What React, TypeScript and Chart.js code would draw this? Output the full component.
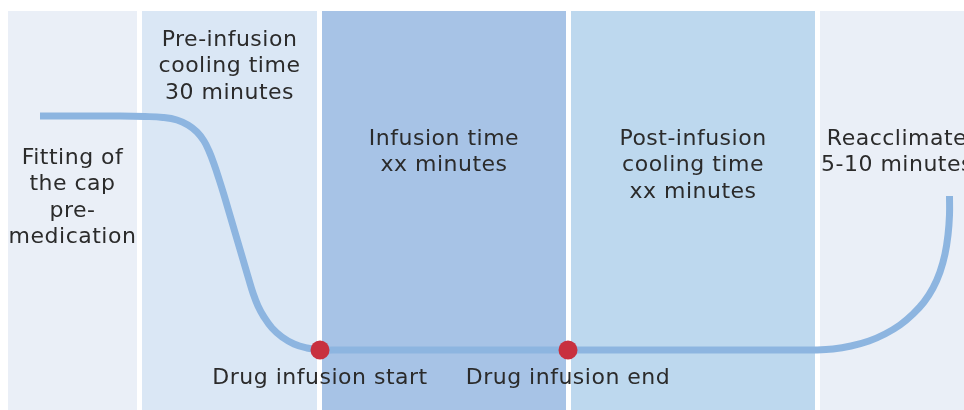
import React, { useEffect, useRef } from "react";
import { Chart, registerables } from "chart.js";

Chart.register(...registerables);

// Timeline phases (x = position along the timeline)
const phaseStarts = [8, 142, 322, 571, 820];
const phaseEnds = [137, 317, 566, 815, 974];
const phaseColors = ["#EAEFF7", "#DAE7F5", "#A7C3E6", "#BDD8EE", "#EAEFF7"];
const phaseLabels: string[][] = [
  ["Fitting of", "the cap", "pre-", "medication"],
  ["Pre-infusion", "cooling time", "30 minutes"],
  ["Infusion time", "xx minutes"],
  ["Post-infusion", "cooling time", "xx minutes"],
  ["Reacclimate", "5-10 minutes"],
];

// Scalp temperature curve (relative level)
const curveX = [40, 80, 120, 145, 163, 177, 188, 197, 204, 209, 214, 219, 224, 229, 234, 239, 244, 249, 253, 258, 264, 272, 282, 294, 307, 320, 340, 380, 450, 520, 590, 660, 720, 760, 795, 815, 833, 851, 869, 885, 900, 913, 924, 933, 940, 945, 948, 949.5, 949.5];
const curveY = [294, 294, 294, 293.5, 292.5, 290, 285, 278, 269, 259, 246, 231, 215, 198, 181, 164, 147, 130, 117, 104, 93, 82, 73, 66, 62, 60, 60, 60, 60, 60, 60, 60, 60, 60, 60, 60, 61, 64, 69, 76, 85, 96, 108, 122, 138, 156, 175, 195, 214];

// Events
const eventX = [320, 568];
const eventY = [60, 60];
const eventLabels = ["Drug infusion start", "Drug infusion end"];

const FONT = '22px "DejaVu Sans"';
const TEXT_COLOR = "#2B2B2B";

export default function App() {
  const ref = useRef<HTMLCanvasElement | null>(null);

  useEffect(() => {
    document.body.style.margin = "0";
    document.body.style.overflow = "hidden";
    const canvas = ref.current;
    if (!canvas) return;

    const labelTops = [158, 40, 139, 139, 139]; // pixel y of first line centre
    const lineGap = 26.5;

    const panelsPlugin = {
      id: "panels",
      beforeDatasetsDraw(chart: any) {
        const { ctx, scales } = chart;
        const x = scales.x;
        const y = scales.y;
        ctx.save();
        const top = y.getPixelForValue(399);
        const bottom = y.getPixelForValue(0);
        phaseStarts.forEach((s, i) => {
          const x0 = x.getPixelForValue(s);
          const x1 = x.getPixelForValue(phaseEnds[i]);
          ctx.fillStyle = phaseColors[i];
          ctx.fillRect(x0, top, x1 - x0, bottom - top);
        });
        ctx.restore();
      },
      afterDatasetsDraw(chart: any) {
        const { ctx, scales } = chart;
        const x = scales.x;
        const y = scales.y;
        ctx.save();
        ctx.font = FONT;
        (ctx as any).letterSpacing = "0.5px";
        ctx.fillStyle = TEXT_COLOR;
        ctx.textAlign = "center";
        ctx.textBaseline = "middle";
        phaseLabels.forEach((lines, i) => {
          const cx = (x.getPixelForValue(phaseStarts[i]) + x.getPixelForValue(phaseEnds[i])) / 2;
          lines.forEach((t, j) => {
            ctx.fillText(t, cx, labelTops[i] + j * lineGap);
          });
        });
        eventLabels.forEach((t, i) => {
          const cx = x.getPixelForValue(eventX[i]);
          const cy = y.getPixelForValue(eventY[i]) + 28;
          ctx.fillText(t, cx, cy);
        });
        ctx.restore();
      },
    };

    const chart = new Chart(canvas, {
      type: "line",
      data: {
        datasets: [
          {
            type: "scatter",
            data: eventX.map((v, i) => ({ x: v, y: eventY[i] })),
            pointRadius: 9.5,
            pointHoverRadius: 9.5,
            backgroundColor: "#C8303F",
            borderWidth: 0,
            order: 0,
          } as any,
          {
            type: "line",
            data: curveX.map((v, i) => ({ x: v, y: curveY[i] })),
            borderColor: "#8DB5E0",
            borderWidth: 7,
            pointRadius: 0,
            tension: 0.4,
            borderCapStyle: "butt",
            borderJoinStyle: "round",
            fill: false,
            order: 1,
          } as any,
        ],
      },
      options: {
        animation: false,
        responsive: false,
        devicePixelRatio: 1,
        layout: { padding: 0, autoPadding: false },
        plugins: { legend: { display: false }, tooltip: { enabled: false } },
        events: [],
        scales: {
          x: { type: "linear", min: 0, max: 964, display: false },
          y: { type: "linear", min: 0, max: 410, display: false },
        },
      },
      plugins: [panelsPlugin],
    });
    return () => chart.destroy();
  }, []);

  return (
    <div style={{ width: 964, height: 410 }}>
      <canvas ref={ref} width={964} height={410} style={{ display: "block" }} />
    </div>
  );
}
